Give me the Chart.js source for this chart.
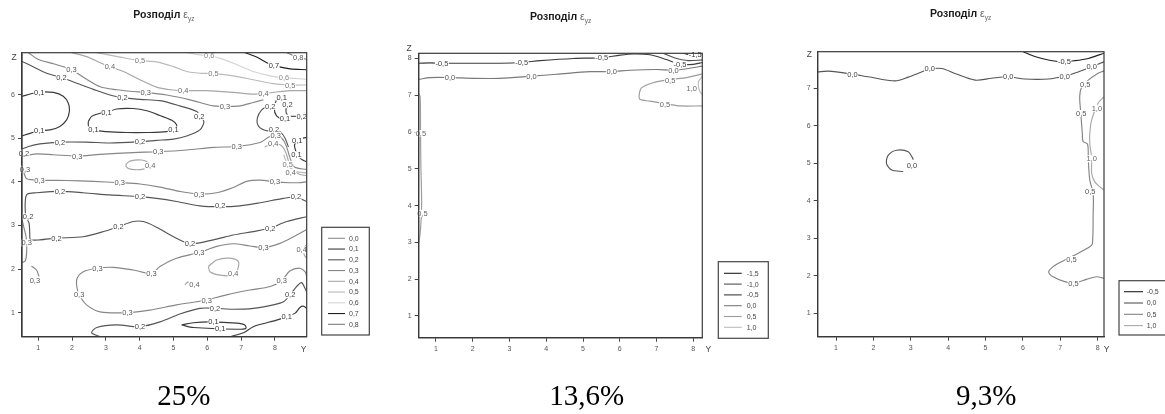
<!DOCTYPE html>
<html>
<head>
<meta charset="utf-8">
<script src="https://cdn.jsdelivr.net/npm/chart.js@4.4.1/dist/chart.umd.min.js"></script>
<style>
  html, body { margin: 0; padding: 0; background: #fff; }
  body { width: 1165px; height: 414px; position: relative; overflow: hidden; }
  canvas { position: absolute; top: 0; }
</style>
</head>
<body>
<canvas id="p1" width="385" height="414" style="left:0px"></canvas>
<canvas id="p2" width="385" height="414" style="left:390px"></canvas>
<canvas id="p3" width="390" height="414" style="left:775px"></canvas>
<script>
// ---------- Panel 1: ε_yz, 25 % ----------
const p1Levels = [0.0, 0.1, 0.2, 0.3, 0.4, 0.5, 0.6, 0.7, 0.8];
const p1XTicks = [1, 2, 3, 4, 5, 6, 7, 8];
const p1ZTicks = [1, 2, 3, 4, 5, 6];
const p1XRange = [0.52, 8.94];
const p1ZRange = [0.45, 6.96];
const p1Contours = [
  [0.8, [[8.35,6.96],[8.64,6.87],[8.94,6.81]]],
  [0.7, [[7.12,6.96],[7.46,6.86],[7.76,6.73],[8.10,6.64],[8.45,6.59],[8.94,6.57]]],
  [0.6, [[5.39,6.96],[5.78,6.91],[6.06,6.89],[6.38,6.83],[6.77,6.72],[7.36,6.53],[7.86,6.43],[8.25,6.39],[8.94,6.35]]],
  [0.5, [[2.73,6.96],[3.42,6.86],[4.01,6.78],[4.50,6.75],[5.00,6.64],[5.39,6.53],[5.78,6.49],[6.18,6.48],[6.77,6.43],[7.36,6.34],[7.95,6.25],[8.45,6.22],[8.94,6.22]]],
  [0.4, [[1.99,6.96],[2.43,6.87],[2.83,6.73],[3.12,6.64],[3.52,6.53],[4.01,6.34],[4.50,6.17],[4.90,6.11],[5.29,6.09],[5.98,6.09],[6.77,6.05],[7.36,6.01],[7.66,6.02],[8.05,6.06],[8.45,6.09],[8.94,6.09]]],
  [0.3, [[0.71,6.96],[0.99,6.81],[1.48,6.70],[1.98,6.57],[2.43,6.35],[2.83,6.18],[3.32,6.11],[3.81,6.07],[4.18,6.05],[4.80,5.99],[5.49,5.88],[6.18,5.74],[6.52,5.73],[6.97,5.74],[7.36,5.82],[7.66,5.88]]],
  [0.2, [[0.52,6.76],[0.85,6.64],[1.25,6.49],[1.69,6.39],[2.14,6.26],[2.63,6.12],[3.12,5.99],[3.49,5.93],[4.01,5.89],[4.60,5.86],[5.19,5.74],[5.69,5.61],[5.78,5.50],[5.90,5.38],[5.78,5.19],[5.39,5.05],[5.00,4.98],[4.50,4.95],[4.01,4.92],[3.12,4.89],[2.43,4.91],[1.64,4.91],[1.05,4.87],[0.71,4.81],[0.52,4.75]]],
  [0.1, [[0.52,5.96],[0.85,6.03],[1.03,6.06],[1.45,6.05],[1.74,5.96],[1.89,5.80],[1.92,5.61],[1.84,5.42],[1.64,5.27],[1.35,5.19],[1.03,5.17],[0.71,5.10],[0.52,5.05]]],
  [0.1, [[2.48,5.38],[2.58,5.50],[2.83,5.57],[3.02,5.59],[3.32,5.67],[3.81,5.68],[4.21,5.63],[4.60,5.52],[4.95,5.41],[5.09,5.31],[5.07,5.21],[4.80,5.15],[4.21,5.13],[3.61,5.13],[3.02,5.15],[2.63,5.19],[2.49,5.27],[2.48,5.38]]],
  [0.3, [[0.52,4.58],[0.95,4.64],[1.45,4.62],[2.15,4.59],[2.83,4.63],[3.81,4.67],[4.55,4.69],[5.39,4.73],[6.18,4.79],[6.87,4.81],[7.56,4.90],[7.85,5.04],[8.10,5.06],[8.28,4.92],[8.38,4.72],[8.46,4.52],[8.58,4.34],[8.94,4.28]]],
  [0.4, [[3.60,4.41],[3.73,4.48],[4.06,4.50],[4.26,4.44],[4.31,4.37],[4.11,4.29],[3.73,4.29],[3.60,4.35],[3.60,4.41]]],
  [0.3, [[0.52,4.37],[0.58,4.20],[0.66,4.07],[1.04,4.04],[1.84,4.03],[2.63,4.01],[3.41,3.98],[4.01,3.95],[4.60,3.88],[5.19,3.78],[5.76,3.72],[6.28,3.75],[6.77,3.87],[7.16,4.01],[7.56,4.04],[8.00,4.00],[8.45,3.98],[8.69,3.98],[8.94,4.00]]],
  [0.1, [[8.17,5.96],[8.05,5.88],[7.98,5.69],[8.05,5.51],[8.25,5.43],[8.43,5.48]]],
  [0.2, [[8.43,5.82],[8.33,5.69],[8.37,5.53],[8.53,5.50],[8.74,5.51],[8.94,5.51]]],
  [0.2, [[7.81,5.74],[7.61,5.65],[7.48,5.46],[7.52,5.27],[7.76,5.17],[7.97,5.20],[8.15,5.15],[8.30,5.00],[8.40,4.80]]],
  [0.4, [[7.70,4.80],[7.95,4.87],[8.18,4.84],[8.32,4.68],[8.40,4.48],[8.50,4.30],[8.70,4.18],[8.94,4.14]]],
  [0.5, [[8.26,4.62],[8.34,4.45],[8.44,4.32],[8.62,4.24],[8.94,4.20]]],
  [0.1, [[8.94,5.02],[8.70,4.97],[8.58,4.85],[8.62,4.70],[8.70,4.58],[8.82,4.50],[8.94,4.46]]],
  [0.2, [[8.94,3.55],[8.62,3.65],[8.25,3.62],[7.56,3.52],[6.97,3.45],[6.38,3.43],[5.78,3.45],[5.09,3.55],[4.50,3.62],[4.01,3.66],[3.12,3.70],[2.33,3.75],[1.64,3.78],[0.95,3.75],[0.68,3.72],[0.62,3.59],[0.62,3.28],[0.66,3.16],[0.73,3.05],[0.75,2.82],[0.77,2.68],[1.05,2.67],[1.54,2.71],[2.33,2.74],[3.02,2.88],[3.37,2.97],[3.81,3.09],[4.11,3.09],[4.50,2.96],[5.00,2.74],[5.49,2.58],[6.18,2.67],[6.77,2.78],[7.36,2.86],[7.86,2.94],[8.35,3.09],[8.94,3.20]]],
  [0.3, [[0.52,3.13],[0.58,2.94],[0.64,2.74],[0.66,2.44],[0.62,2.19],[0.52,2.15]]],
  [0.3, [[0.80,2.07],[0.95,1.98],[1.03,1.81]]],
  [0.3, [[8.94,2.91],[8.55,2.74],[8.15,2.59],[7.66,2.49],[7.26,2.53],[6.77,2.58],[6.28,2.52],[5.76,2.38],[5.09,2.25],[4.60,2.06],[4.35,1.90],[3.81,1.98],[3.22,2.04],[2.75,2.02],[2.33,1.94],[2.15,1.79],[2.14,1.60],[2.21,1.41],[2.43,1.18],[2.83,1.02],[3.64,1.00],[4.30,1.06],[5.09,1.18],[5.69,1.25],[5.98,1.29],[6.57,1.41],[7.26,1.52],[7.86,1.60],[8.20,1.74],[8.45,1.96],[8.74,2.02],[8.89,1.94],[8.94,1.83]]],
  [0.4, [[6.03,2.06],[6.28,2.21],[6.67,2.25],[6.92,2.17],[6.89,1.98],[6.77,1.86],[6.38,1.86],[6.08,1.94],[6.03,2.06]]],
  [0.4, [[5.34,1.64],[5.42,1.70],[5.54,1.69]]],
  [0.4, [[8.94,2.55],[8.84,2.48],[8.87,2.32],[8.94,2.25]]],
  [0.2, [[2.83,0.45],[2.58,0.54],[2.73,0.66],[3.32,0.72],[4.01,0.68],[4.60,0.79],[5.19,0.97],[5.78,1.10],[6.23,1.10],[6.77,1.08],[7.36,1.10],[7.95,1.18],[8.25,1.25],[8.45,1.41],[8.64,1.60],[8.79,1.69],[8.89,1.56],[8.94,1.48]]],
  [0.1, [[5.24,0.72],[5.59,0.77],[6.08,0.79],[6.87,0.76],[7.11,0.72],[7.14,0.64],[6.87,0.62],[5.59,0.66],[5.24,0.72]]],
  [0.1, [[6.67,0.45],[7.07,0.54],[7.36,0.68],[7.76,0.77],[8.05,0.83],[8.35,0.91],[8.60,0.99],[8.74,1.12],[8.84,1.15],[8.94,1.10]]]
];
const p1Labels = [
  [0.8,8.69,6.86],[0.7,7.97,6.66],[0.6,6.06,6.89],[0.6,8.27,6.39],
  [0.5,4.01,6.78],[0.5,6.18,6.48],[0.5,8.45,6.22],
  [0.4,3.12,6.64],[0.4,5.29,6.09],[0.4,7.66,6.02],
  [0.3,1.98,6.57],[0.3,4.18,6.05],[0.3,6.52,5.73],
  [0.2,1.69,6.39],[0.2,3.49,5.93],[0.2,5.76,5.50],[0.2,4.01,4.92],[0.2,1.64,4.91],[0.2,0.58,4.66],
  [0.1,1.03,6.06],[0.1,1.03,5.17],[0.1,3.02,5.59],[0.1,5.00,5.19],[0.1,2.63,5.19],
  [0.3,2.15,4.59],[0.3,4.55,4.69],[0.3,6.87,4.81],[0.4,4.31,4.37],
  [0.3,0.61,4.29],[0.3,1.04,4.04],[0.3,3.41,3.98],[0.3,5.76,3.72],[0.3,8.00,4.00],
  [0.1,8.20,5.94],[0.2,7.86,5.73],[0.2,8.37,5.77],[0.1,8.30,5.46],[0.2,8.79,5.51],
  [0.2,7.97,5.21],[0.3,8.02,5.06],[0.4,7.95,4.87],[0.1,8.66,4.96],[0.1,8.64,4.62],
  [0.5,8.38,4.40],[0.4,8.47,4.22],
  [0.2,8.62,3.66],[0.2,6.38,3.45],[0.2,4.01,3.66],[0.2,1.64,3.78],[0.2,0.70,3.20],
  [0.2,1.54,2.71],[0.2,3.37,2.97],[0.2,5.49,2.59],[0.2,7.86,2.94],
  [0.3,0.66,2.60],[0.3,0.90,1.75],
  [0.3,5.76,2.38],[0.3,7.66,2.49],[0.3,4.35,1.90],[0.3,2.75,2.02],[0.3,2.21,1.41],
  [0.3,3.64,1.00],[0.3,5.98,1.29],[0.3,8.20,1.74],
  [0.4,6.77,1.90],[0.4,5.62,1.65],[0.4,8.79,2.44],
  [0.2,4.01,0.68],[0.2,6.23,1.10],[0.2,8.45,1.41],
  [0.1,6.18,0.79],[0.1,6.38,0.64],[0.1,8.35,0.91]
];

// ---------- Panel 2: ε_yz, 13,6 % ----------
const p2Levels = [-1.5, -1.0, -0.5, 0.0, 0.5, 1.0];
const p2XTicks = [1, 2, 3, 4, 5, 6, 7, 8];
const p2ZTicks = [1, 2, 3, 4, 5, 6, 7, 8];
const p2XRange = [0.53, 8.245];
const p2ZRange = [0.41, 8.14];
const p2Contours = [
  [-1.5, [[7.73,8.14],[7.96,8.09],[8.25,8.06]]],
  [-1.0, [[7.18,8.14],[7.55,8.00],[7.86,7.94],[8.25,7.96]]],
  [-0.5, [[0.53,7.87],[0.84,7.88],[1.16,7.87],[2.02,7.87],[2.74,7.87],[3.33,7.89],[3.83,7.94],[4.74,8.00],[5.51,8.02],[6.01,8.09],[6.37,8.12],[6.82,8.10],[7.27,7.97],[7.64,7.84],[8.00,7.84],[8.25,7.89]]],
  [0.0, [[0.53,7.43],[0.84,7.48],[1.38,7.48],[2.02,7.46],[2.74,7.46],[3.60,7.52],[4.28,7.57],[5.19,7.64],[5.78,7.64],[6.28,7.68],[7.00,7.70],[7.46,7.68],[7.82,7.72],[8.25,7.79]]],
  [0.5, [[8.25,7.58],[7.82,7.48],[7.37,7.43],[6.91,7.34],[6.59,7.20],[6.53,7.02],[6.55,6.89],[6.82,6.84],[7.23,6.77],[7.64,6.71],[8.25,6.71]]],
  [1.0, [[8.25,7.52],[8.14,7.37],[8.16,7.14],[8.25,7.01]]],
  [0.5, [[0.53,7.05],[0.57,6.96],[0.58,5.96],[0.59,5.06],[0.61,4.15],[0.60,3.70],[0.57,3.25],[0.53,2.97]]]
];
const p2Labels = [
  [-0.5,1.16,7.87],[-0.5,3.33,7.89],[-0.5,5.51,8.02],[-0.5,7.64,7.84],
  [0.0,1.38,7.48],[0.0,3.60,7.52],[0.0,5.78,7.64],[0.0,7.46,7.68],
  [-1.5,8.05,8.11],[0.5,7.37,7.41],[0.5,7.23,6.76],[1.0,7.96,7.19],
  [0.5,0.59,5.96],[0.5,0.63,3.79]
];

// ---------- Panel 3: ε_yz, 9,3 % ----------
const p3Levels = [-0.5, 0.0, 0.5, 1.0];
const p3XTicks = [1, 2, 3, 4, 5, 6, 7, 8];
const p3ZTicks = [1, 2, 3, 4, 5, 6, 7];
const p3XRange = [0.51, 8.17];
const p3ZRange = [0.37, 7.98];
const p3Contours = [
  [-0.5, [[6.01,7.98],[6.32,7.85],[6.68,7.76],[7.03,7.71],[7.39,7.74],[7.75,7.80],[8.17,7.94]]],
  [0.0, [[0.51,7.44],[0.79,7.46],[1.44,7.38],[1.86,7.31],[2.58,7.20],[2.93,7.30],[3.29,7.44],[3.51,7.52],[3.83,7.53],[4.18,7.40],[4.72,7.22],[5.16,7.27],[5.61,7.31],[6.05,7.25],[6.68,7.25],[7.12,7.33],[7.48,7.44],[7.84,7.58],[8.17,7.71]]],
  [0.0, [[3.07,5.10],[2.93,5.31],[2.62,5.35],[2.40,5.22],[2.35,5.00],[2.49,4.82],[2.80,4.78]]],
  [0.5, [[8.17,7.47],[7.97,7.38],[7.75,7.22],[7.57,7.03],[7.52,6.78],[7.55,6.33],[7.59,5.80],[7.61,5.58],[7.73,5.51],[7.75,5.09],[7.79,4.55],[7.88,4.20],[7.88,3.66],[7.86,2.86],[7.79,2.77],[7.39,2.55],[7.03,2.37],[6.81,2.24],[6.69,2.10],[6.81,1.97],[7.12,1.84],[7.39,1.81],[7.70,1.90],[7.97,1.97],[8.17,1.93]]],
  [1.0, [[8.17,6.78],[8.01,6.60],[7.84,6.16],[7.79,5.80],[7.79,5.53],[7.84,5.13],[7.84,4.73],[7.92,4.51],[8.06,4.37],[8.17,4.29]]]
];
const p3Labels = [
  [-0.5,7.11,7.71],
  [0.0,1.44,7.38],[0.0,3.51,7.52],[0.0,5.61,7.31],[0.0,7.12,7.33],[0.0,7.84,7.58],
  [0.0,3.03,4.95],
  [0.5,7.67,7.11],[0.5,7.56,6.33],[0.5,7.80,4.24],[0.5,7.30,2.43],[0.5,7.35,1.78],
  [1.0,7.98,6.47],[1.0,7.84,5.12]
];

// ---------- styling ----------
const SANS = '"Liberation Sans", Arial, Helvetica, sans-serif';
const SERIF = '"Liberation Serif", "Times New Roman", serif';

const p1Colors = { '0':'#8c8c8c', '0.1':'#3a3a3a', '0.2':'#555555', '0.3':'#868686', '0.4':'#a6a6a6', '0.5':'#bababa', '0.6':'#d4d4d4', '0.7':'#1f1f1f', '0.8':'#7c7c7c' };
const p1Text   = { '0':'#555', '0.1':'#333', '0.2':'#444', '0.3':'#555', '0.4':'#666', '0.5':'#777', '0.6':'#888', '0.7':'#333', '0.8':'#555' };
const p2Colors = { '-1.5':'#1f1f1f', '-1':'#505050', '-0.5':'#3c3c3c', '0':'#7a7a7a', '0.5':'#9c9c9c', '1':'#bcbcbc' };
const p2Text   = { '-1.5':'#333', '-1':'#444', '-0.5':'#444', '0':'#555', '0.5':'#666', '1':'#666' };
const p3Colors = { '-0.5':'#1f1f1f', '0':'#555555', '0.5':'#838383', '1':'#a9a9a9' };
const p3Text   = { '-0.5':'#333', '0':'#444', '0.5':'#555', '1':'#666' };

function fmt(v) {
  return (v < 0 ? '-' : '') + Math.abs(v).toFixed(1).replace('.', ',');
}

// draws frame, contour value labels, axis letters, legend box, title and caption
const panelDecor = {
  id: 'panelDecor',
  afterDatasetsDraw(chart, args, o) {
    const ctx = chart.ctx, a = chart.chartArea;
    const xs = chart.scales.x, ys = chart.scales.y;
    ctx.save();

    // value labels on the isolines
    ctx.font = `7.5px ${SANS}`;
    ctx.textAlign = 'center';
    ctx.textBaseline = 'middle';
    o.labels.forEach(([lv, x, z]) => {
      const px = xs.getPixelForValue(x), py = ys.getPixelForValue(z);
      const t = fmt(lv);
      const w = ctx.measureText(t).width;
      ctx.fillStyle = '#fff';
      ctx.fillRect(px - w / 2 - 0.5, py - 3.5, w + 1, 7);
      ctx.fillStyle = o.textColors[String(lv)];
      ctx.fillText(t, px, py + 0.5);
    });

    // frame
    ctx.strokeStyle = '#3a3a3a';
    ctx.lineWidth = 1.2;
    ctx.strokeRect(a.left, a.top, a.right - a.left, a.bottom - a.top);

    // axis letters
    ctx.fillStyle = '#444';
    ctx.font = `8.5px ${SANS}`;
    ctx.fillText('Z', o.zPos[0], o.zPos[1]);
    ctx.fillText('Y', o.yPos[0], o.yPos[1]);

    // legend
    const L = o.legend;
    ctx.strokeStyle = '#444';
    ctx.lineWidth = 1.2;
    ctx.strokeRect(L.x1, L.y1, L.x2 - L.x1, L.y2 - L.y1);
    ctx.font = `7px ${SANS}`;
    ctx.textAlign = 'left';
    o.levels.forEach((lv, i) => {
      const y = L.row0 + i * L.step;
      ctx.strokeStyle = o.colors[String(lv)];
      ctx.lineWidth = 1.1;
      ctx.beginPath();
      ctx.moveTo(L.lx1, y);
      ctx.lineTo(L.lx2, y);
      ctx.stroke();
      ctx.fillStyle = '#444';
      ctx.fillText(fmt(lv), L.tx, y + 0.5);
    });

    // title: Розподіл ε_yz
    const T = o.title;
    ctx.textBaseline = 'alphabetic';
    ctx.textAlign = 'left';
    ctx.fillStyle = '#1a1a1a';
    ctx.font = `bold ${T.size}px ${SANS}`;
    const head = 'Розподіл ';
    ctx.fillText(head, T.x, T.y);
    let w = ctx.measureText(head).width;
    ctx.fillStyle = '#666';
    ctx.font = `${T.size}px ${SANS}`;
    ctx.fillText('ε', T.x + w, T.y);
    w += ctx.measureText('ε').width;
    ctx.font = `${T.size * 0.62}px ${SANS}`;
    ctx.fillText('yz', T.x + w, T.y + 2.5);

    // caption under the panel
    ctx.fillStyle = '#000';
    ctx.textAlign = 'center';
    ctx.font = `29px ${SERIF}`;
    ctx.fillText(o.caption.text, o.caption.x, o.caption.y);

    ctx.restore();
  }
};

function axis(range, ticks, fit) {
  return {
    type: 'linear',
    min: range[0],
    max: range[1],
    afterBuildTicks: s => { s.ticks = ticks.map(v => ({ value: v })); },
    afterFit: fit,
    ticks: { font: { size: 7, family: SANS }, color: '#555', padding: 3, maxRotation: 0, autoSkip: false },
    grid: { drawOnChartArea: false, drawTicks: true, tickLength: 4, color: '#444', lineWidth: 1 },
    border: { display: true, color: '#3a3a3a', width: 1.2 }
  };
}

function makePanel(id, p) {
  const datasets = p.contours.map(([lv, pts]) => ({
    data: pts.map(([x, y]) => ({ x, y })),
    showLine: true,
    pointRadius: 0,
    borderWidth: 1.15,
    borderColor: p.colors[String(lv)],
    tension: 0.3,
    fill: false
  }));
  return new Chart(document.getElementById(id), {
    type: 'scatter',
    data: { datasets },
    options: {
      responsive: false,
      animation: false,
      devicePixelRatio: 1,
      events: [],
      layout: { padding: p.padding },
      plugins: {
        legend: { display: false },
        tooltip: { enabled: false },
        panelDecor: {
          labels: p.labels, levels: p.levels, colors: p.colors, textColors: p.textColors,
          zPos: p.zPos, yPos: p.yPos, legend: p.legend, title: p.title, caption: p.caption
        }
      },
      scales: {
        x: axis(p.xRange, p.xTicks, s => { s.height = 20; }),
        y: axis(p.zRange, p.zTicks, s => { s.width = 20; })
      }
    },
    plugins: [panelDecor]
  });
}

makePanel('p1', {
  contours: p1Contours, labels: p1Labels, levels: p1Levels,
  colors: p1Colors, textColors: p1Text,
  xRange: p1XRange, zRange: p1ZRange, xTicks: p1XTicks, zTicks: p1ZTicks,
  padding: { left: 2, right: 78.3, top: 52.7, bottom: 57.3 },
  zPos: [14, 57.7], yPos: [303.7, 349.3],
  legend: { x1: 321.7, y1: 227.3, x2: 369.3, y2: 335, row0: 238.3, step: 10.75, lx1: 328, lx2: 345, tx: 349 },
  title: { x: 133.3, y: 18.3, size: 10.5 },
  caption: { text: '25%', x: 183.8, y: 404.5 }
});

makePanel('p2', {
  contours: p2Contours, labels: p2Labels, levels: p2Levels,
  colors: p2Colors, textColors: p2Text,
  xRange: p2XRange, zRange: p2ZRange, xTicks: p2XTicks, zTicks: p2ZTicks,
  padding: { left: 8.7, right: 72.7, top: 53.3, bottom: 56.3 },
  zPos: [19, 48.3], yPos: [318.3, 349.3],
  legend: { x1: 328.3, y1: 261.7, x2: 378.3, y2: 338.3, row0: 273.3, step: 10.8, lx1: 334, lx2: 351.7, tx: 356.7 },
  title: { x: 140, y: 20, size: 10.5 },
  caption: { text: '13,6%', x: 196.7, y: 404.5 }
});

makePanel('p3', {
  contours: p3Contours, labels: p3Labels, levels: p3Levels,
  colors: p3Colors, textColors: p3Text,
  xRange: p3XRange, zRange: p3ZRange, xTicks: p3XTicks, zTicks: p3ZTicks,
  padding: { left: 22.7, right: 61, top: 51.7, bottom: 57.3 },
  zPos: [34.3, 55], yPos: [331.7, 349.3],
  legend: { x1: 344, y1: 280.7, x2: 395, y2: 335, row0: 291.7, step: 11.3, lx1: 349, lx2: 368, tx: 371.7 },
  title: { x: 155, y: 17.3, size: 10.5 },
  caption: { text: '9,3%', x: 211.3, y: 404.5 }
});
</script>
</body>
</html>
